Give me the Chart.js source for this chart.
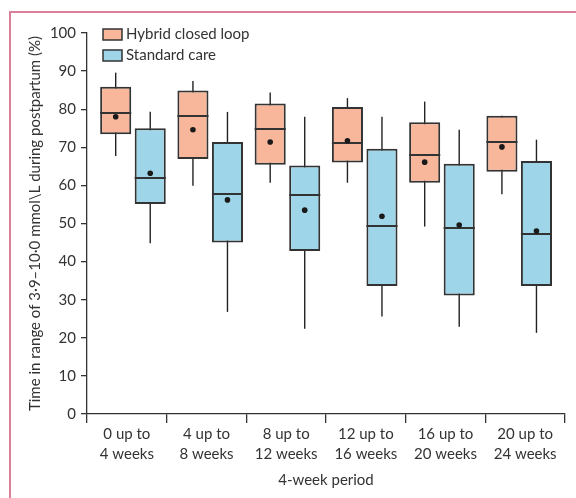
<!DOCTYPE html>
<html>
<head>
<meta charset="utf-8">
<script src="https://cdn.jsdelivr.net/npm/chart.js@4/dist/chart.umd.min.js"></script>
<style>
  html, body { margin: 0; padding: 0; background: #fff; }
  #wrap { width: 576px; height: 498px; position: relative; }
</style>
</head>
<body>
<div id="wrap"><canvas id="c" width="576" height="498"></canvas></div>
<script>
const categories = [
  ['0 up to', '4 weeks'], ['4 up to', '8 weeks'], ['8 up to', '12 weeks'],
  ['12 up to', '16 weeks'], ['16 up to', '20 weeks'], ['20 up to', '24 weeks']
];
const seriesNames = ['Hybrid closed loop', 'Standard care'];
const yTicks = [0, 10, 20, 30, 40, 50, 60, 70, 80, 90, 100];

const hclMin    = [67.7, 59.9, 60.7, 60.7, 49.2, 57.7];
const hclQ1     = [73.4, 66.9, 65.4, 66.0, 60.7, 63.6];
const hclMedian = [79.1, 78.3, 74.8, 71.1, 67.9, 71.4];
const hclQ3     = [85.9, 84.9, 81.5, 80.6, 76.6, 78.3];
const hclMax    = [89.6, 87.4, 84.4, 82.9, 82.0, 78.3];
const hclMean   = [78.0, 74.6, 71.4, 71.7, 66.1, 70.1];

const scMin     = [44.8, 26.8, 22.4, 25.6, 22.9, 21.3];
const scQ1      = [55.1, 45.0, 42.8, 33.6, 31.1, 33.6];
const scMedian  = [61.9, 57.8, 57.4, 49.4, 48.7, 47.2];
const scQ3      = [75.0, 71.4, 65.2, 69.6, 65.7, 66.4];
const scMax     = [79.3, 79.3, 78.0, 78.0, 74.6, 72.0];
const scMean    = [63.2, 56.2, 53.5, 51.9, 49.6, 48.0];

const HCL_COLOR = '#F8B69A';
const SC_COLOR = '#9FD5E8';
const EDGE = '#333333';
const TEXT = '#333333';
const FONT = 'Lato, "Open Sans", sans-serif';

// boxes sit on a hidden index axis, one unit per period
const pts = (a, b) => a.map((v, i) => ({ x: i, y: [v, b[i]] }));
const common = { xAxisID: 'xb', categoryPercentage: 0.894, barPercentage: 0.9, borderSkipped: false,
                 borderColor: EDGE, inflateAmount: 0 };

const datasets = [
  { label: 'hclBox', stack: 'hcl', data: pts(hclQ1, hclQ3), backgroundColor: HCL_COLOR, borderWidth: 2, ...common },
  { label: 'scBox', stack: 'sc', data: pts(scQ1, scQ3), backgroundColor: SC_COLOR, borderWidth: 2, ...common },
  { label: 'hclWhisker', stack: 'hcl', data: pts(hclMin, hclMax), backgroundColor: '#222',
    borderWidth: 0, maxBarThickness: 1.4, ...common },
  { label: 'scWhisker', stack: 'sc', data: pts(scMin, scMax), backgroundColor: '#222',
    borderWidth: 0, maxBarThickness: 1.4, ...common }
];

// medians (lines across each box) and means (dots), placed with the chart's own scales
const statPlugin = {
  id: 'boxStats',
  afterDatasetsDraw(chart) {
    const ctx = chart.ctx, y = chart.scales.y;
    [[0, hclMedian, hclMean], [1, scMedian, scMean]].forEach(([di, medians, means]) => {
      const meta = chart.getDatasetMeta(di);
      meta.data.forEach((el, i) => {
        const half = el.width / 2;
        const my = Math.round(y.getPixelForValue(medians[i]));
        ctx.save();
        ctx.fillStyle = EDGE;
        ctx.fillRect(el.x - half, my - 1, half * 2, 2);
        ctx.fillStyle = '#1a1a1a';
        ctx.beginPath();
        ctx.arc(el.x, y.getPixelForValue(means[i]), 2.8, 0, Math.PI * 2);
        ctx.fill();
        ctx.restore();
      });
    });
  }
};

const legendPlugin = {
  id: 'boxLegend',
  afterDraw(chart) {
    const ctx = chart.ctx, a = chart.chartArea;
    const cols = [HCL_COLOR, SC_COLOR];
    ctx.save();
    ctx.font = '15px ' + FONT;
    ctx.textBaseline = 'middle';
    seriesNames.forEach((name, i) => {
      const bx = a.left + 16, by = a.top - 4 + i * 21;
      ctx.fillStyle = cols[i];
      ctx.fillRect(bx, by, 19, 11);
      ctx.strokeStyle = EDGE;
      ctx.lineWidth = 1.5;
      ctx.strokeRect(bx, by, 19, 11);
      ctx.fillStyle = TEXT;
      ctx.fillText(name, bx + 23, by + 5.5);
    });
    ctx.restore();
  }
};

const framePlugin = {
  id: 'frame',
  beforeDraw(chart) {
    const ctx = chart.ctx;
    ctx.save();
    ctx.strokeStyle = '#D9819B';
    ctx.lineWidth = 2;
    ctx.beginPath();
    ctx.moveTo(576, 12);
    ctx.lineTo(10, 12);
    ctx.lineTo(10, 498);
    ctx.stroke();
    ctx.restore();
  }
};

new Chart(document.getElementById('c'), {
  type: 'bar',
  data: { labels: categories, datasets },
  plugins: [framePlugin, statPlugin, legendPlugin],
  options: {
    responsive: false,
    animation: false,
    layout: { padding: { left: 20, top: 33, right: 11, bottom: 8 } },
    plugins: { legend: { display: false }, tooltip: { enabled: false } },
    scales: {
      x: {
        offset: true,
        grid: { offset: true, drawOnChartArea: false, drawTicks: true, tickLength: 9, color: EDGE, lineWidth: 1.3 },
        border: { display: true, color: EDGE, width: 1.3 },
        ticks: { color: TEXT, font: { family: FONT, size: 15, lineHeight: 1.33 }, padding: 1, maxRotation: 0, autoSkip: false },
        title: { display: true, text: '4-week period', color: TEXT, font: { family: FONT, size: 15, lineHeight: 1.33 }, padding: { top: 0, bottom: 0 } },
        afterFit(s) { s.height = 76; }
      },
      xb: {
        type: 'linear',
        display: false,
        offset: false,
        grid: { offset: false },
        min: -0.595,
        max: 5.593,
        afterBuildTicks(s) { s.ticks = categories.map((c, i) => ({ value: i })); }
      },
      y: {
        stacked: false,
        min: 0, max: 100,
        afterBuildTicks(s) { s.ticks = yTicks.map(v => ({ value: v })); },
        grid: { drawOnChartArea: false, drawTicks: true, tickLength: 6, color: EDGE, lineWidth: 1.3 },
        border: { display: true, color: EDGE, width: 1.3 },
        ticks: { color: TEXT, font: { family: FONT, size: 15 }, padding: 5 },
        title: { display: true, text: 'Time in range of 3·9–10·0 mmol\\L during postpartum (%)', color: TEXT, font: { family: FONT, size: 15, lineHeight: 1.2 }, padding: { top: 6, bottom: 0 } },
        afterFit(s) { s.width = 67; }
      }
    }
  }
});
</script>
</body>
</html>
